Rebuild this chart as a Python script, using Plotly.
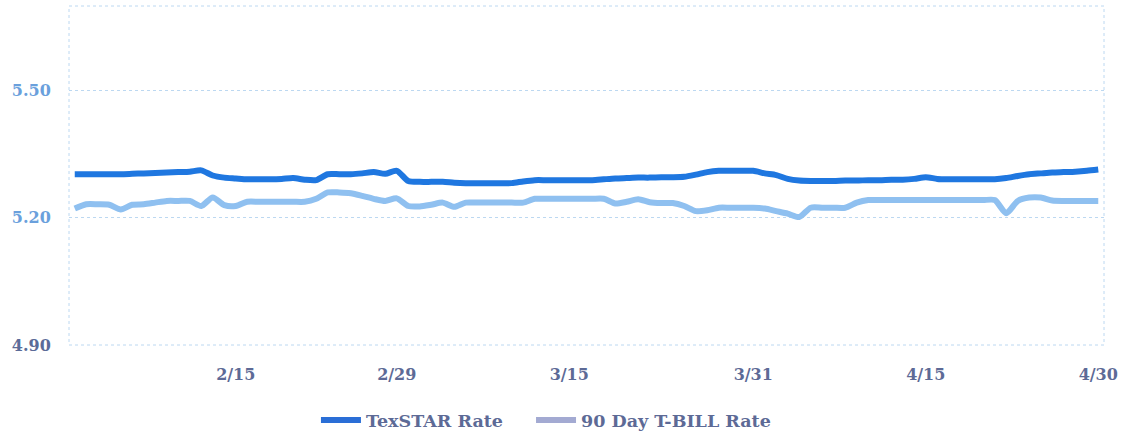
import plotly.graph_objects as go
import pandas as pd

dates = pd.date_range("2024-02-01", "2024-04-30", freq="D").strftime("%Y-%m-%d").tolist()

texstar_rate = [
    5.303, 5.303, 5.303, 5.303, 5.303, 5.304, 5.305, 5.306, 5.307, 5.308,
    5.309, 5.312, 5.300, 5.295, 5.293, 5.291, 5.291, 5.291, 5.292, 5.294,
    5.290, 5.289, 5.303, 5.303, 5.303, 5.305, 5.308, 5.304, 5.311, 5.287,
    5.285, 5.285, 5.285, 5.283, 5.282, 5.282, 5.282, 5.282, 5.282, 5.286,
    5.289, 5.289, 5.289, 5.289, 5.289, 5.289, 5.291, 5.293, 5.294, 5.295,
    5.295, 5.296, 5.296, 5.297, 5.302, 5.308, 5.311, 5.311, 5.311, 5.311,
    5.305, 5.301, 5.292, 5.288, 5.287, 5.287, 5.287, 5.288, 5.288, 5.289,
    5.289, 5.290, 5.290, 5.292, 5.296, 5.292, 5.291, 5.291, 5.291, 5.291,
    5.291, 5.294, 5.299, 5.303, 5.305, 5.307, 5.308, 5.309, 5.311, 5.314,
]

tbill_rate = [
    5.222, 5.232, 5.232, 5.231, 5.220, 5.231, 5.232, 5.236, 5.240, 5.240,
    5.240, 5.228, 5.248, 5.230, 5.228, 5.238, 5.238, 5.238, 5.238, 5.238,
    5.238, 5.245, 5.260, 5.260, 5.258, 5.252, 5.245, 5.240, 5.246, 5.228,
    5.227, 5.231, 5.236, 5.226, 5.236, 5.236, 5.236, 5.236, 5.236, 5.236,
    5.245, 5.245, 5.245, 5.245, 5.245, 5.245, 5.245, 5.234, 5.238, 5.244,
    5.237, 5.235, 5.235, 5.228, 5.216, 5.218, 5.224, 5.224, 5.224, 5.224,
    5.222, 5.216, 5.210, 5.202, 5.224, 5.224, 5.224, 5.224, 5.236, 5.242,
    5.242, 5.242, 5.242, 5.242, 5.242, 5.242, 5.242, 5.242, 5.242, 5.242,
    5.242, 5.211, 5.240, 5.248, 5.248, 5.241, 5.240, 5.240, 5.240, 5.240,
]

x_tick_vals = ["2024-02-15", "2024-02-29", "2024-03-15", "2024-03-31", "2024-04-15", "2024-04-30"]
x_tick_text = ["2/15", "2/29", "3/15", "3/31", "4/15", "4/30"]
y_tick_vals = [4.90, 5.20, 5.50]
y_tick_text = ['<span style="color:#5b6b98">4.90</span>',
               '<span style="color:#6aa0dc">5.20</span>',
               '<span style="color:#6aa0dc">5.50</span>']

series_names = ["TexSTAR Rate", "90 Day T-BILL Rate"]
line_colors = ["#1f77e0", "#8fc0f0"]
legend_colors = ["#2a6ed6", "#a3aad2"]
legend_ids = ["legend", "legend2"]

FONT = "DejaVu Serif"
SLATE = "#5d6a96"

fig = go.Figure()
for name, ys, col in zip(series_names, [texstar_rate, tbill_rate], line_colors):
    fig.add_trace(go.Scatter(
        x=dates, y=ys, mode="lines", name=name, showlegend=False,
        line=dict(color=col, width=6, shape="spline", smoothing=0.7),
    ))
for name, col, lid in zip(series_names, legend_colors, legend_ids):
    fig.add_trace(go.Scatter(
        x=[None], y=[None], mode="lines", name=name, legend=lid,
        line=dict(color=col, width=6),
    ))

fig.add_shape(type="rect", xref="x domain", yref="y domain", x0=0, x1=1, y0=0, y1=1,
              line=dict(color="rgba(160,200,235,0.7)", width=1, dash="dot"), layer="below")

legend_style = dict(orientation="h", xanchor="left", yref="container", y=0.03, yanchor="middle",
                    font=dict(family=FONT, size=17.5, color=SLATE, weight="bold"),
                    itemwidth=40, bgcolor="rgba(0,0,0,0)")

fig.update_layout(
    width=1123, height=433,
    margin=dict(l=69, r=19, t=6, b=88, autoexpand=False),
    paper_bgcolor="white", plot_bgcolor="white",
    font=dict(family=FONT, color=SLATE, size=16),
    legend=dict(x=0.2386, **legend_style),
    legend2=dict(x=0.4464, **legend_style),
    xaxis=dict(
        type="date", range=["2024-01-31 12:00", "2024-04-30 12:00"],
        tickvals=x_tick_vals, ticktext=x_tick_text, automargin=False,
        showgrid=False, zeroline=False, showline=False,
        ticks="outside", ticklen=15, tickcolor="rgba(0,0,0,0)",
        tickfont=dict(family=FONT, size=16, color=SLATE, weight="bold"),
    ),
    yaxis=dict(
        range=[4.90, 5.70], tickvals=y_tick_vals, ticktext=y_tick_text, automargin=False,
        showgrid=True, gridcolor="rgba(160,200,235,0.7)", griddash="dot", gridwidth=1,
        zeroline=False, showline=False,
        ticks="outside", ticklen=14, tickcolor="rgba(0,0,0,0)",
        tickfont=dict(family=FONT, size=16, color=SLATE, weight="bold"),
    ),
)

fig.write_html("out.html", config={"displayModeBar": False},
               post_script="document.body.style.margin='0';document.body.style.padding='0';")
